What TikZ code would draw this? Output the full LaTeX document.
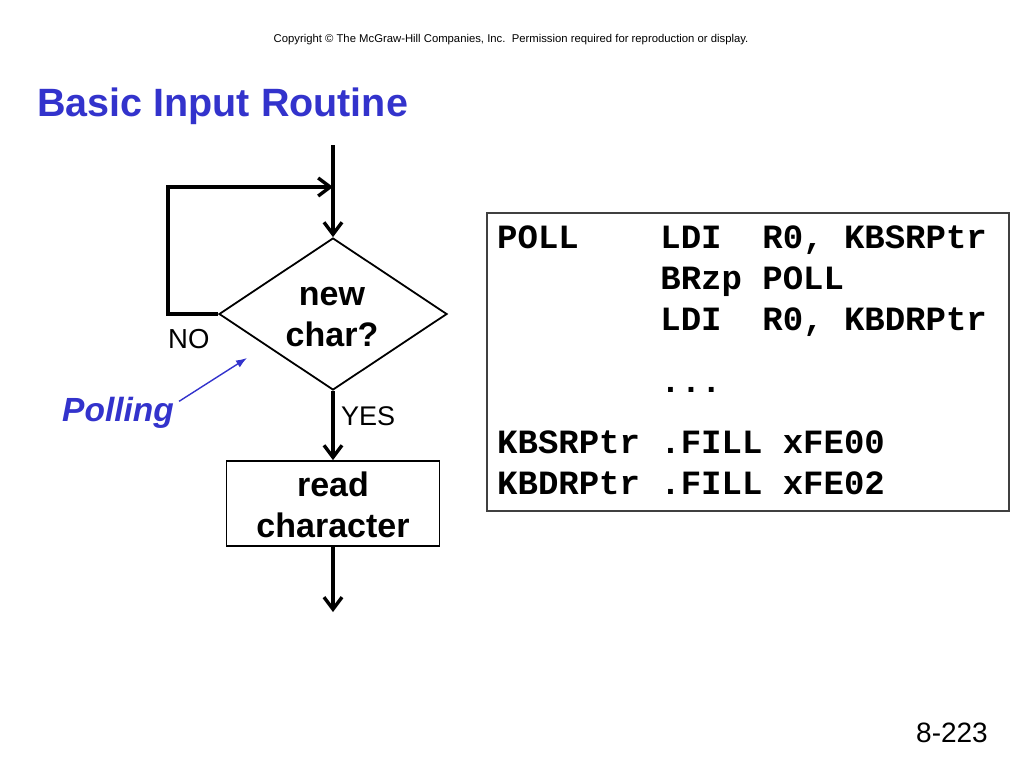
\documentclass[tikz,border=0pt]{standalone}
\usepackage{fontspec}
\setmainfont{Liberation Sans}
\setmonofont{Liberation Mono}
\usetikzlibrary{arrows.meta,shapes.geometric}
\definecolor{titleblue}{RGB}{51,51,204}
\tikzset{
  flow/.style={line width=3.4pt,-{Straight Barb[length=12pt,width=18pt]}},
  txt/.style={inner sep=0pt,anchor=base},
  code/.style={inner sep=0pt,anchor=base west,font=\fontsize{34}{40}\selectfont\ttfamily\bfseries},
  boxtxt/.style={inner sep=0pt,font=\fontsize{34}{41}\selectfont\bfseries,align=center}
}
\begin{document}
\begin{tikzpicture}[x=1pt,y=-1pt]
\useasboundingbox (0,0) rectangle (1024,768);
% header
\node[txt,font=\fontsize{11.3}{13}\selectfont] (copy) at (511,42) {Copyright \textcopyright{} The McGraw-Hill Companies, Inc.\ \ Permission required for reproduction or display.};
\node[txt,anchor=base west,font=\fontsize{39.5}{44}\selectfont\bfseries,text=titleblue] (title) at (37,116) {Basic Input Routine};
% flowchart
\coordinate (top) at (333,145);
\coordinate (join) at (333,187);
\node[diamond,draw,line width=1.8pt,minimum width=228pt,minimum height=152pt,inner sep=0pt] (dec) at (333,314) {};
\node[boxtxt] (dectxt) at (332,317) {new\\char?};
\node[draw,line width=1.8pt,minimum width=213pt,minimum height=85pt,inner sep=0pt] (read) at (333,503.5) {};
\node[boxtxt] (readtxt) at (333,505) {read\\character};
\coordinate (bot) at (333,612);
\draw[flow] (top) -- (dec.north);
\draw[flow] (dec.west) -- ++(-50,0) |- (join);
\draw[flow] (dec.south) -- (read.north);
\draw[flow] (read.south) -- (bot);
\node[txt,anchor=base west,font=\fontsize{27.5}{30}\selectfont] (no) at (168,348) {NO};
\node[txt,anchor=base west,font=\fontsize{27}{30}\selectfont] (yes) at (341,425) {YES};
\node[txt,anchor=base west,font=\fontsize{33.5}{38}\selectfont\bfseries\itshape,text=titleblue] (poll) at (62,421) {Polling};
\coordinate (ptip) at (247,358);
\draw[titleblue,line width=1.4pt,-{Latex[length=11pt,width=8pt]}] ([xshift=5pt,yshift=11pt]poll.east) -- (ptip);
% code box
\node[draw=black!75,line width=1.3pt,minimum width=522pt,minimum height=298pt,inner sep=0pt] (box) at (748,362) {};
\node[code] (c1) at (497,248) {POLL\ \ \ \ LDI\ \ R0, KBSRPtr};
\node[code] (c2) at (497,289) {\ \ \ \ \ \ \ \ BRzp POLL};
\node[code] (c3) at (497,330) {\ \ \ \ \ \ \ \ LDI\ \ R0, KBDRPtr};
\node[code] (c4) at (497,392) {\ \ \ \ \ \ \ \ ...};
\node[code] (c5) at (497,453) {KBSRPtr .FILL xFE00};
\node[code] (c6) at (497,494) {KBDRPtr .FILL xFE02};
% page number
\node[txt,anchor=base east,font=\fontsize{28}{32}\selectfont] (page) at (988,742) {8-223};
\end{tikzpicture}
\end{document}
